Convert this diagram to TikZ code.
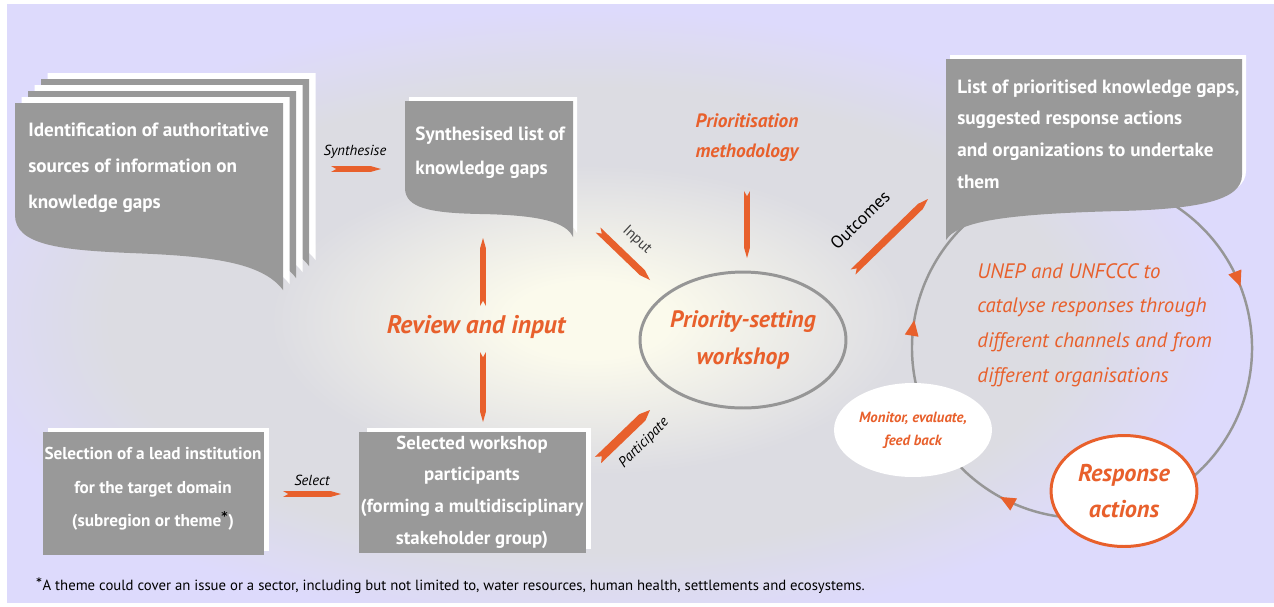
\documentclass[tikz,border=0pt]{standalone}
\usepackage{fontspec}
\setmainfont{PT Sans}
\newfontfamily\starfont{DejaVu Sans}
\usetikzlibrary{calc,shapes.geometric,decorations.markings,arrows.meta}

\definecolor{lav}{RGB}{221,218,252}
\definecolor{glowc}{RGB}{251,250,236}
\definecolor{mistc}{RGB}{220,220,226}
\definecolor{boxgray}{RGB}{153,153,153}
\definecolor{orng}{RGB}{232,96,44}
\definecolor{ringgray}{RGB}{150,150,150}

\pgfdeclareradialshading{glow}{\pgfpoint{0bp}{0bp}}{color(0bp)=(glowc); color(2.5bp)=(glowc); color(10bp)=(mistc); color(15bp)=(mistc); color(20bp)=(lav); color(50bp)=(lav)}

\newcommand\fstar{{\starfont\bfseries *}}

\tikzset{
  boxtext/.style={text=white, inner sep=0pt, align=left, anchor=west},
  seltext/.style={text=white, inner sep=0pt, align=center},
  lbl/.style={inner sep=0pt, font=\fontsize{8.3}{10}\selectfont\itshape},
  otext/.style={text=orng, inner sep=0pt, align=center, font=\bfseries\itshape},
  ring/.style={ringgray, line width=1.4pt},
}

% orange ribbon arrow: [half width]{tail}{head}
\newcommand\ribbon[3][1.7pt]{%
  \coordinate (rb) at ($(#3)!6pt!(#2)$);
  \fill[orng] ($(#2)!#1!90:(#3)$) -- ($(rb)!#1!-90:(#2)$) -- (#3)
    -- ($(rb)!#1!90:(#2)$) -- ($(#2)!#1!-90:(#3)$) -- ($(#2)!3pt!(#3)$) -- cycle;}

\begin{document}
\begin{tikzpicture}[x=0.02cm, y=-0.02cm]
  \useasboundingbox (0,0) rectangle (1274,606);
  \fill[white] (0,0) rectangle (1274,606);
  \begin{scope}
    \clip (7,4) rectangle (1274,602);
    \begin{scope}[transform canvas={yscale=0.484}]
      \fill[shading=glow] (-210,-139) rectangle (1390,1461);
    \end{scope}
  \end{scope}

  % cycle on the right
  \coordinate (cyc) at (1082,348);
  \draw[ring, postaction={decorate}, decoration={markings,
      mark=at position 0.108 with {\arrow{Triangle[length=9pt,width=7.5pt,color=orng]}},
      mark=at position 0.497 with {\arrow{Triangle[length=9pt,width=7.5pt,color=orng]}},
      mark=at position 0.693 with {\arrow{Triangle[length=9pt,width=7.5pt,color=orng]}}}]
    (cyc) ++(-60:170) arc[start angle=-60, end angle=300, radius=170];

  % stacked source documents
  \foreach \k/\c in {5/white,4/boxgray,3/white,2/boxgray,1/white,0/boxgray}
    \fill[\c, shift={(6.5*\k,-6*\k)}] (15,103) -- (283,103) -- (283,290)
      .. controls (262,262) and (210,256) .. (130,253)
      .. controls (60,250) and (15,245) .. (15,215) -- cycle;
  \node[boxtext, font=\fontsize{10.9}{20.4}\selectfont\bfseries] (ident) at (28,168)
    {Identification of authoritative\\sources of information on\\knowledge gaps};

  % synthesised list
  \foreach \s/\c in {4/white,0/boxgray}
    \fill[\c, shift={(\s,-\s)}] (405,101) -- (573,101) -- (573,237)
      .. controls (566,222) and (540,215) .. (480,214)
      .. controls (430,213) and (405,208) .. (405,188) -- cycle;
  \node[boxtext, font=\fontsize{10.9}{19.3}\selectfont\bfseries] (synlist) at (415,153)
    {Synthesised list of\\knowledge gaps};

  % prioritised list
  \foreach \s/\c in {4/white,0/boxgray}
    \fill[\c, shift={(\s,-\s)}] (946,59) -- (1242,59) -- (1242,175)
      .. controls (1242,200) and (1200,209) .. (1120,211)
      .. controls (1000,214) and (958,222) .. (946,240) -- cycle;
  \node[boxtext, font=\fontsize{10.9}{18}\selectfont\bfseries] (prilist) at (957,134)
    {List of prioritised knowledge gaps,\\suggested response actions\\and organizations to undertake\\them};

  % lower boxes
  \fill[white] (48,428) rectangle (269,551);
  \fill[boxgray] (43,432) rectangle (264,555);
  \node[seltext, font=\fontsize{9.8}{19}\selectfont\bfseries] (lead) at (153,489)
    {Selection of a lead institution\\for the target domain\\(subregion or theme{\color{black}\textsuperscript{\fstar}})};
  \fill[white] (367,428) rectangle (591,549);
  \fill[boxgray] (359,432) rectangle (586,553);
  \node[seltext, font=\fontsize{10.7}{18}\selectfont\bfseries] (parts) at (472,492)
    {Selected workshop\\participants\\(forming a multidisciplinary\\stakeholder group)};

  % workshop and loop nodes
  \node[ellipse, draw=ringgray, line width=1.7pt, minimum width=4cm, minimum height=2.72cm,
    otext, font=\fontsize{13.5}{21}\selectfont\bfseries\itshape] (workshop) at (743,340)
    {Priority-setting\\workshop};
  \node[ellipse, fill=white, minimum width=3.16cm, minimum height=1.88cm,
    otext, font=\fontsize{8.4}{13}\selectfont\bfseries\itshape] (monitor) at (913,430)
    {Monitor, evaluate,\\feed back};
  \node[ellipse, fill=white, draw=orng, line width=1.7pt, minimum width=2.92cm, minimum height=2.22cm,
    otext, font=\fontsize{13.8}{21}\selectfont\bfseries\itshape] (response) at (1124,491)
    {Response\\actions};

  \node[otext, font=\fontsize{14.5}{17}\selectfont\bfseries\itshape] (review) at (476,327) {Review and input};
  \node[otext, font=\fontsize{11}{17}\selectfont\bfseries\itshape] (prio) at (747,138)
    {Prioritisation\\methodology};
  \node[text=orng, inner sep=0pt, align=left, anchor=west, font=\fontsize{11.9}{19.8}\selectfont\itshape] (unep) at (977,325)
    {UNEP and UNFCCC to\\catalyse responses through\\different channels and from\\different organisations};

  % arrow labels
  \node[lbl] (synth) at (355,152) {Synthesise};
  \node[lbl] (sel) at (312,480) {Select};
  \node[lbl, rotate=45] (partic) at (644,443) {Participate};
  \node[lbl, font=\fontsize{8.5}{10}\selectfont, text=darkgray, rotate=-43] (inp) at (637,240) {Input};
  \node[lbl, font=\fontsize{10}{12}\selectfont, rotate=44] (outc) at (860,220) {Outcomes};

  % ribbon arrows
  \coordinate (syn-t) at (331,169); \coordinate (syn-h) at (381,169);
  \coordinate (sel-t) at (283,494); \coordinate (sel-h) at (341,494);
  \coordinate (rup-t) at (483,306); \coordinate (rup-h) at (483,238);
  \coordinate (rdn-t) at (483,352); \coordinate (rdn-h) at (483,422);
  \coordinate (inp-t) at (598,230); \coordinate (inp-h) at (650,280);
  \coordinate (pri-t) at (747,191); \coordinate (pri-h) at (747,258);
  \coordinate (out-t) at (853,272); \coordinate (out-h) at (928,199);
  \coordinate (par-t) at (598,460); \coordinate (par-h) at (650,410);
  \ribbon{syn-t}{syn-h}
  \ribbon{sel-t}{sel-h}
  \ribbon{rup-t}{rup-h}
  \ribbon{rdn-t}{rdn-h}
  \ribbon[2pt]{inp-t}{inp-h}
  \ribbon{pri-t}{pri-h}
  \ribbon[2pt]{out-t}{out-h}
  \ribbon[2.5pt]{par-t}{par-h}

  % footnote
  \node[inner sep=0pt, anchor=west, font=\fontsize{8.4}{10}\selectfont] (foot) at (36,586)
    {\textsuperscript{\fstar}A theme could cover an issue or a sector, including but not limited to, water resources, human health, settlements and ecosystems.};
\end{tikzpicture}
\end{document}
